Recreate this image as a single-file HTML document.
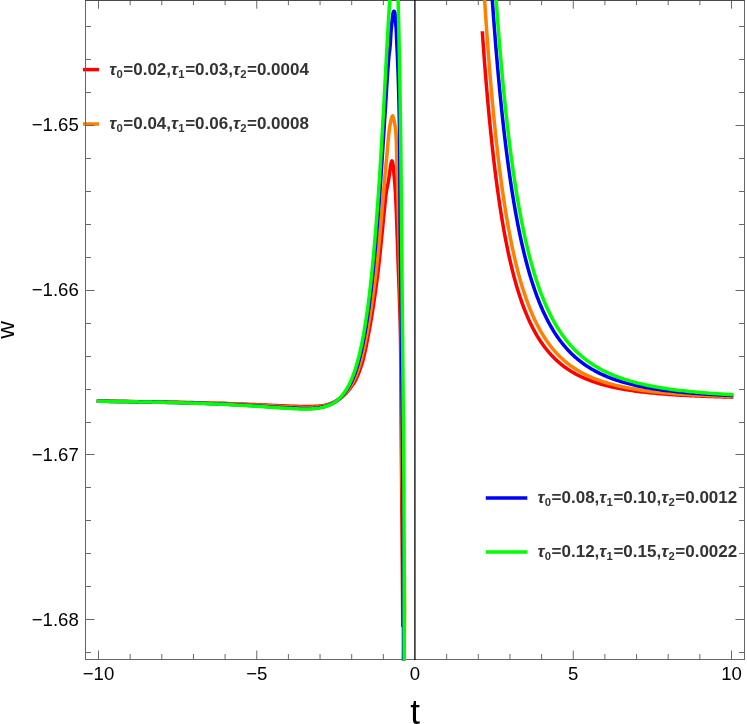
<!DOCTYPE html>
<html><head><meta charset="utf-8"><title>plot</title>
<style>
html,body{margin:0;padding:0;background:#fff;overflow:hidden;}
body{width:747px;height:724px;position:relative;overflow:hidden;font-family:"Liberation Sans",sans-serif;}
.yt{position:absolute;left:0;width:78.8px;text-align:right;font-size:18.6px;line-height:20px;color:#000;white-space:nowrap;}
.xt{position:absolute;top:664px;width:60px;text-align:center;font-size:18.6px;line-height:20px;color:#000;white-space:nowrap;}
.lg{position:absolute;font-size:17px;font-weight:bold;color:#333;line-height:24px;height:24px;white-space:nowrap;letter-spacing:0px;}
.lg i{font-style:italic;margin-right:0.3px;}
.lg sub{font-size:11.3px;vertical-align:baseline;position:relative;top:2.9px;letter-spacing:0;margin-right:0.55px;}
.xl{position:absolute;left:410.3px;top:691.6px;font-size:35px;line-height:40px;color:#000;}
.yl{position:absolute;left:-14px;top:314.5px;width:40px;height:30px;line-height:30px;text-align:center;font-size:24.5px;color:#000;transform:rotate(-90deg);transform-origin:50% 50%;}
</style></head><body>
<svg width="747" height="724" viewBox="0 0 747 724" style="position:absolute;left:0;top:0">
<rect x="0" y="0" width="747" height="724" fill="#ffffff"/>
<g stroke-width="3.5" fill="none">
<line x1="83" y1="69.6" x2="99" y2="69.6" stroke="#ff0000"/>
<line x1="83" y1="124" x2="99" y2="124" stroke="#ff8000"/>
<line x1="485.8" y1="498.1" x2="527.3" y2="498.1" stroke="#0000ff"/>
<line x1="485.8" y1="551.9" x2="527.3" y2="551.9" stroke="#00ff00"/>
</g>
<path d="M98.50,659.5 v-9.0 M98.50,0 v8.7 M130.15,659.5 v-5.5 M130.15,0 v5.2 M161.80,659.5 v-5.5 M161.80,0 v5.2 M193.45,659.5 v-5.5 M193.45,0 v5.2 M225.10,659.5 v-5.5 M225.10,0 v5.2 M256.75,659.5 v-9.0 M256.75,0 v8.7 M288.40,659.5 v-5.5 M288.40,0 v5.2 M320.05,659.5 v-5.5 M320.05,0 v5.2 M351.70,659.5 v-5.5 M351.70,0 v5.2 M383.35,659.5 v-5.5 M383.35,0 v5.2 M446.65,659.5 v-5.5 M446.65,0 v5.2 M478.30,659.5 v-5.5 M478.30,0 v5.2 M509.95,659.5 v-5.5 M509.95,0 v5.2 M541.60,659.5 v-5.5 M541.60,0 v5.2 M573.25,659.5 v-9.0 M573.25,0 v8.7 M604.90,659.5 v-5.5 M604.90,0 v5.2 M636.55,659.5 v-5.5 M636.55,0 v5.2 M668.20,659.5 v-5.5 M668.20,0 v5.2 M699.85,659.5 v-5.5 M699.85,0 v5.2 M731.50,659.5 v-9.0 M731.50,0 v8.7 M85.5,26.50 h5.5 M744.5,26.50 h-5.5 M85.5,59.50 h5.5 M744.5,59.50 h-5.5 M85.5,92.50 h5.5 M744.5,92.50 h-5.5 M85.5,125.50 h9.0 M744.5,125.50 h-9.0 M85.5,158.50 h5.5 M744.5,158.50 h-5.5 M85.5,191.50 h5.5 M744.5,191.50 h-5.5 M85.5,224.50 h5.5 M744.5,224.50 h-5.5 M85.5,257.50 h5.5 M744.5,257.50 h-5.5 M85.5,290.50 h9.0 M744.5,290.50 h-9.0 M85.5,323.50 h5.5 M744.5,323.50 h-5.5 M85.5,356.50 h5.5 M744.5,356.50 h-5.5 M85.5,389.50 h5.5 M744.5,389.50 h-5.5 M85.5,422.50 h5.5 M744.5,422.50 h-5.5 M85.5,454.50 h9.0 M744.5,454.50 h-9.0 M85.5,487.50 h5.5 M744.5,487.50 h-5.5 M85.5,520.50 h5.5 M744.5,520.50 h-5.5 M85.5,553.50 h5.5 M744.5,553.50 h-5.5 M85.5,586.50 h5.5 M744.5,586.50 h-5.5 M85.5,619.50 h9.0 M744.5,619.50 h-9.0 M85.5,652.50 h5.5 M744.5,652.50 h-5.5" stroke="#686868" stroke-width="1" fill="none"/>
<rect x="85.5" y="0.5" width="659.0" height="659.0" fill="none" stroke="#666666" stroke-width="1"/>
<line x1="85.0" y1="0.5" x2="745.0" y2="0.5" stroke="#4a4a4a" stroke-width="1"/>
<clipPath id="cp"><rect x="85.5" y="-5" width="659.0" height="665.4"/></clipPath>
<clipPath id="cr"><rect x="85.5" y="31.3" width="659.0" height="595.7"/></clipPath>
<g fill="none" stroke-linejoin="round" stroke-linecap="square" stroke-width="3.5">
<g clip-path="url(#cr)" stroke="#ff0000">
<path d="M98.50,401.21 L102.39,401.25 L106.28,401.29 L110.17,401.33 L114.06,401.37 L117.95,401.42 L121.84,401.46 L125.74,401.50 L129.63,401.54 L133.52,401.59 L137.41,401.63 L141.30,401.68 L145.19,401.73 L149.08,401.78 L152.97,401.84 L156.86,401.90 L160.75,401.96 L164.64,402.02 L168.53,402.09 L172.42,402.16 L176.32,402.23 L180.21,402.31 L184.11,402.39 L188.01,402.46 L191.92,402.55 L195.82,402.63 L199.73,402.72 L203.64,402.82 L207.55,402.92 L211.47,403.02 L215.39,403.13 L219.31,403.24 L223.23,403.36 L227.15,403.49 L231.08,403.63 L235.01,403.77 L238.94,403.92 L242.87,404.08 L246.81,404.24 L250.74,404.42 L254.71,404.59 L256.72,404.68 L258.74,404.77 L260.76,404.86 L262.79,404.94 L264.82,405.03 L266.86,405.12 L268.89,405.21 L270.92,405.30 L272.95,405.40 L274.97,405.49 L276.99,405.58 L278.99,405.68 L282.97,405.85 L286.94,406.00 L290.90,406.13 L294.87,406.26 L298.85,406.38 L302.85,406.49 L304.86,406.53 L306.89,406.54 L308.92,406.53 L310.95,406.50 L312.96,406.43 L314.97,406.33 L316.98,406.19 L318.98,406.01 L320.98,405.78 L322.96,405.48 L324.93,405.10 L326.89,404.65 L328.85,404.10 L330.81,403.44 L332.77,402.66 L334.59,401.81 L336.38,400.87 L338.11,399.87 L339.80,398.77 L341.42,397.56 L342.96,396.27 L344.44,394.89 L345.84,393.45 L347.20,391.94 L348.50,390.40 L349.76,388.81 L350.93,387.16 L352.09,385.51 L353.33,383.90 L354.49,382.23 L355.47,380.44 L356.33,378.58 L357.16,376.74 L357.95,374.87 L358.71,372.98 L359.43,371.07 L360.13,369.15 L360.80,367.23 L361.44,365.31 L362.05,363.40 L362.64,361.42 L363.18,359.46 L363.69,357.42 L364.17,355.41 L364.62,353.44 L365.07,351.41 L365.50,349.42 L365.92,347.38 L366.32,345.39 L366.72,343.34 L367.10,341.37 L367.49,339.33 L367.90,337.25 L368.28,335.25 L368.67,333.19 L369.06,331.09 L369.43,329.08 L369.81,327.03 L370.19,324.93 L370.55,322.94 L370.90,320.91 L371.26,318.84 L371.62,316.72 L371.95,314.73 L372.28,312.71 L372.61,310.65 L372.93,308.54 L373.26,306.40 L373.57,304.41 L373.87,302.38 L374.17,300.32 L374.48,298.22 L374.79,296.09 L375.10,293.91 L375.38,291.92 L375.66,289.90 L375.95,287.85 L376.23,285.76 L376.51,283.64 L376.79,281.49 L377.08,279.30 L377.36,277.08 L377.61,275.08 L377.86,273.04 L378.10,270.98 L378.35,268.89 L378.59,266.78 L378.84,264.63 L379.08,262.46 L379.32,260.25 L379.56,258.01 L379.80,255.75 L380.01,253.74 L380.22,251.71 L380.44,249.66 L380.65,247.58 L380.86,245.48 L381.08,243.35 L381.29,241.20 L381.51,239.02 L381.73,236.82 L381.95,234.59 L382.18,232.34 L382.40,230.07 L382.63,227.76 L382.82,225.77 L383.02,223.76 L383.21,221.73 L383.41,219.68 L383.61,217.61 L383.82,215.52 L384.03,213.41 L384.13,212.35 L384.23,211.29 L384.33,210.22 L384.44,209.16 L384.54,208.10 L384.65,207.03 L384.77,205.97 L384.88,204.91 L384.99,203.85 L385.10,202.79 L385.22,201.72 L385.33,200.66 L385.44,199.60 L385.56,198.54 L385.67,197.47 L385.78,196.41 L385.89,195.35 L386.02,194.29 L386.15,193.23 L386.30,192.17 L386.46,191.11 L386.65,190.06 L386.86,189.02 L387.09,187.97 L387.32,186.93 L387.55,185.89 L387.77,184.84 L387.97,183.80 L388.16,182.75 L388.33,181.71 L388.50,180.65 L388.66,179.59 L388.82,178.53 L388.97,177.46 L389.13,176.38 L389.29,175.30 L389.44,174.22 L389.60,173.15 L389.75,172.08 L389.89,171.02 L390.04,169.98 L390.18,168.96 L390.31,167.96 L390.43,166.97 L390.57,165.98 L390.74,164.94 L390.95,163.82 L391.24,162.59 L391.59,161.38 L391.97,160.83 L392.34,161.40 L392.66,162.61 L392.91,163.84 L393.10,164.98 L393.23,166.05 L393.33,167.08 L393.42,168.09 L393.51,169.11 L393.60,170.14 L393.70,171.18 L393.79,172.22 L393.89,173.28 L393.99,174.33 L394.08,175.40 L394.18,176.47 L394.28,177.54 L394.38,178.62 L394.47,179.70 L394.57,180.78 L394.66,181.86 L394.75,182.94 L394.83,184.01 L394.92,185.09 L395.00,186.16 L395.07,187.24 L395.15,188.30 L395.22,189.37 L395.28,190.44 L395.35,191.50 L395.41,192.56 L395.47,193.62 L395.53,194.68 L395.59,195.74 L395.64,196.80 L395.69,197.86 L395.74,198.92 L395.80,199.98 L395.85,201.04 L395.90,202.10 L395.94,203.16 L395.99,204.22 L396.04,205.28 L396.09,206.34 L396.13,207.40 L396.18,208.47 L396.22,209.53 L396.27,210.59 L396.31,211.66 L396.35,212.72 L396.40,213.79 L396.44,214.85 L396.48,215.92 L396.52,216.98 L396.56,218.05 L396.60,219.11 L396.64,220.18 L396.68,221.25 L396.72,222.32 L396.76,223.38 L396.80,224.45 L396.84,225.52 L396.87,226.59 L396.91,227.66 L396.95,228.73 L396.98,229.79 L397.02,230.86 L397.06,231.93 L397.09,233.00 L397.13,234.07 L397.17,235.14 L397.20,236.21 L397.24,237.28 L397.27,238.35 L397.31,239.42 L397.34,240.49 L397.38,241.56 L397.42,242.63 L397.45,243.71 L397.49,244.78 L397.52,245.85 L397.56,246.92 L397.59,247.99 L397.63,249.06 L397.66,250.13 L397.70,251.20 L397.74,252.27 L397.77,253.34 L397.81,254.41 L397.85,255.48 L397.88,256.55 L397.92,257.62 L397.96,258.69 L397.99,259.76 L398.03,260.83 L398.07,261.90 L398.11,262.97 L398.15,264.04 L398.19,265.11 L398.23,266.18 L398.26,267.25 L398.30,268.32 L398.34,269.39 L398.38,270.45 L398.42,271.52 L398.46,272.59 L398.50,273.66 L398.54,274.73 L398.58,275.80 L398.62,276.86 L398.66,277.93 L398.71,279.00 L398.75,280.07 L398.79,281.13 L398.83,282.20 L398.87,283.27 L398.91,284.34 L398.95,285.40 L398.99,286.47 L399.03,287.54 L399.07,288.61 L399.11,289.67 L399.15,290.74 L399.18,291.81 L399.22,292.87 L399.26,293.94 L399.30,295.01 L399.34,296.08 L399.38,297.14 L399.42,298.21 L399.45,299.28 L399.49,300.34 L399.53,301.41 L399.56,302.48 L399.60,303.54 L399.63,304.61 L399.67,305.68 L399.70,306.74 L399.74,307.81 L399.77,308.88 L399.81,309.94 L399.84,311.01 L399.87,312.08 L399.90,313.14 L399.93,314.21 L399.96,315.28 L400.00,316.35 L400.02,317.41 L400.05,318.48 L400.08,319.55 L400.11,320.61 L400.14,321.68 L400.16,322.75 L400.19,323.82 L400.21,324.88 L400.24,325.95 L400.26,327.02 L400.29,328.08 L400.31,329.15 L400.33,330.22 L400.35,331.29 L400.37,332.35 L400.39,333.42 L400.41,334.49 L400.43,335.56 L400.45,336.63 L400.47,337.69 L400.49,338.76 L400.51,339.83 L400.52,340.90 L400.54,341.96 L400.55,343.03 L400.57,344.10 L400.59,345.17 L400.60,346.24 L400.61,347.30 L400.63,348.37 L400.64,349.44 L400.66,350.51 L400.67,351.58 L400.68,352.64 L400.69,353.71 L400.70,354.78 L400.72,355.85 L400.73,356.92 L400.74,357.99 L400.75,359.05 L400.76,360.12 L400.77,361.19 L400.78,362.26 L400.79,363.33 L400.79,364.40 L400.80,365.46 L400.81,366.53 L400.82,367.60 L400.83,368.67 L400.84,369.74 L400.84,370.81 L400.85,371.87 L400.86,372.94 L400.87,374.01 L400.87,375.08 L400.88,376.15 L400.89,377.22 L400.89,378.29 L400.90,379.35 L400.90,380.42 L400.91,381.49 L400.92,382.56 L400.92,383.63 L400.93,384.70 L400.93,385.77 L400.94,386.83 L400.95,387.90 L400.95,388.97 L400.96,390.04 L400.96,391.11 L400.97,392.18 L400.97,393.25 L400.98,394.31 L400.99,395.38 L400.99,396.45 L401.00,397.52 L401.00,398.59 L401.01,399.66 L401.01,400.72 L401.02,401.79 L401.03,402.86 L401.03,403.93 L401.04,405.00 L401.05,406.07 L401.05,407.14 L401.06,408.20 L401.07,409.27 L401.07,410.34 L401.08,411.41 L401.08,412.48 L401.09,413.55 L401.10,414.61 L401.11,415.68 L401.11,416.75 L401.12,417.82 L401.13,418.89 L401.13,419.96 L401.14,421.02 L401.15,422.09 L401.16,423.16 L401.16,424.23 L401.17,425.30 L401.18,426.37 L401.19,427.43 L401.19,428.50 L401.20,429.57 L401.21,430.64 L401.22,431.71 L401.22,432.78 L401.23,433.84 L401.24,434.91 L401.25,435.98 L401.26,437.05 L401.26,438.12 L401.27,439.19 L401.28,440.25 L401.29,441.32 L401.30,442.39 L401.31,443.46 L401.31,444.53 L401.32,445.59 L401.33,446.66 L401.34,447.73 L401.35,448.80 L401.36,449.87 L401.36,450.94 L401.37,452.00 L401.38,453.07 L401.39,454.14 L401.40,455.21 L401.41,456.28 L401.42,457.34 L401.43,458.41 L401.43,459.48 L401.44,460.55 L401.45,461.62 L401.46,462.69 L401.47,463.75 L401.48,464.82 L401.49,465.89 L401.50,466.96 L401.51,468.03 L401.52,469.09 L401.53,470.16 L401.53,471.23 L401.54,472.30 L401.55,473.37 L401.56,474.43 L401.57,475.50 L401.58,476.57 L401.59,477.64 L401.60,478.71 L401.61,479.77 L401.62,480.84 L401.63,481.91 L401.64,482.98 L401.65,484.05 L401.66,485.11 L401.67,486.18 L401.67,487.25 L401.68,488.32 L401.69,489.39 L401.70,490.46 L401.71,491.52 L401.72,492.59 L401.73,493.66 L401.74,494.73 L401.75,495.80 L401.76,496.86 L401.77,497.93 L401.78,499.00 L401.79,500.07 L401.80,501.14 L401.81,502.20 L401.82,503.27 L401.83,504.34 L401.84,505.41 L401.85,506.48 L401.86,507.54 L401.87,508.61 L401.87,509.68 L401.88,510.75 L401.89,511.82 L401.90,512.88 L401.91,513.95 L401.92,515.02 L401.93,516.09 L401.94,517.16 L401.95,518.22 L401.96,519.29 L401.97,520.36 L401.98,521.43 L401.99,522.50 L402.00,523.56 L402.01,524.63 L402.02,525.70 L402.03,526.77 L402.04,527.84 L402.05,528.90 L402.05,529.97 L402.06,531.04 L402.07,532.11 L402.08,533.18 L402.09,534.24 L402.10,535.31 L402.11,536.38 L402.12,537.45 L402.13,538.52 L402.14,539.59 L402.15,540.65 L402.16,541.72 L402.17,542.79 L402.17,543.86 L402.18,544.93 L402.19,545.99 L402.20,547.06 L402.21,548.13 L402.22,549.20 L402.23,550.27 L402.24,551.33 L402.25,552.40 L402.25,553.47 L402.26,554.54 L402.27,555.61 L402.28,556.67 L402.29,557.74 L402.30,558.81 L402.31,559.88 L402.31,560.95 L402.32,562.01 L402.33,563.08 L402.34,564.15 L402.35,565.22 L402.36,566.29 L402.36,567.36 L402.37,568.42 L402.38,569.49 L402.39,570.56 L402.40,571.63 L402.40,572.70 L402.41,573.76 L402.42,574.83 L402.43,575.90 L402.44,576.97 L402.44,578.04 L402.45,579.11 L402.46,580.17 L402.47,581.24 L402.47,582.31 L402.48,583.38 L402.49,584.45 L402.50,585.51 L402.50,586.58 L402.51,587.65 L402.52,588.72 L402.53,589.79 L402.53,590.86 L402.54,591.92 L402.55,592.99 L402.55,594.06 L402.56,595.13 L402.57,596.20 L402.57,597.26 L402.58,598.33 L402.59,599.40 L402.59,600.47 L402.60,601.54 L402.61,602.61 L402.61,603.67 L402.62,604.74 L402.62,605.81 L402.63,606.88 L402.64,607.95 L402.64,609.02 L402.65,610.08 L402.65,611.15 L402.66,612.22 L402.66,613.29 L402.67,614.36 L402.68,615.43 L402.68,616.50 L402.69,617.56 L402.69,618.63 L402.70,619.70 L402.70,620.77 L402.71,621.84 L402.71,622.91 L402.72,623.97 L402.72,625.04 L402.73,626.11 L402.73,627.18 L402.73,628.25 L402.74,629.32 L402.74,630.38 L402.75,631.45 L402.75,632.52 L402.75,633.59 L402.76,634.66 L402.76,635.73 L402.77,636.80 L402.77,637.86 L402.77,638.93 L402.78,640.00"/>
<path d="M481.52,20.00 L481.62,21.43 L481.73,23.17 L481.85,24.90 L481.97,26.62 L482.09,28.33 L482.20,30.03 L482.32,31.72 L482.44,33.41 L482.55,35.08 L482.67,36.74 L482.79,38.40 L482.90,40.04 L483.02,41.68 L483.14,43.31 L483.25,44.92 L483.37,46.53 L483.49,48.13 L483.60,49.72 L483.72,51.31 L483.84,52.88 L483.95,54.45 L484.07,56.00 L484.19,57.55 L484.30,59.09 L484.42,60.62 L484.54,62.14 L484.65,63.66 L484.77,65.16 L484.89,66.66 L485.00,68.15 L485.12,69.63 L485.24,71.10 L485.35,72.57 L485.47,74.02 L485.59,75.47 L485.70,76.91 L485.82,78.34 L485.94,79.77 L486.06,81.19 L486.17,82.60 L486.29,84.00 L486.41,85.39 L486.52,86.78 L486.64,88.16 L486.76,89.53 L486.87,90.90 L486.99,92.25 L487.11,93.60 L487.22,94.95 L487.34,96.28 L487.46,97.61 L487.57,98.93 L487.69,100.25 L487.81,101.55 L487.92,102.85 L488.04,104.15 L488.16,105.43 L488.27,106.71 L488.39,107.99 L488.51,109.25 L488.62,110.51 L488.74,111.76 L488.86,113.01 L488.97,114.25 L489.09,115.48 L489.21,116.71 L489.32,117.93 L489.44,119.14 L489.56,120.35 L489.67,121.55 L489.79,122.74 L489.91,123.93 L490.03,125.11 L490.14,126.29 L490.26,127.45 L490.38,128.62 L490.49,129.77 L490.61,130.93 L490.73,132.07 L490.84,133.21 L490.96,134.34 L491.08,135.47 L491.19,136.59 L491.31,137.71 L491.43,138.82 L491.54,139.92 L491.66,141.02 L491.78,142.11 L491.89,143.20 L492.01,144.28 L492.13,145.35 L492.24,146.42 L492.36,147.49 L492.48,148.55 L492.59,149.60 L492.71,150.65 L492.83,151.69 L492.94,152.73 L493.06,153.76 L493.18,154.79 L493.29,155.81 L493.41,156.83 L493.53,157.84 L493.64,158.84 L493.76,159.84 L493.88,160.84 L494.05,162.32 L494.23,163.80 L494.40,165.26 L494.58,166.71 L494.75,168.15 L494.93,169.58 L495.10,171.00 L495.28,172.40 L495.45,173.80 L495.63,175.19 L495.80,176.56 L495.98,177.93 L496.16,179.28 L496.33,180.63 L496.51,181.96 L496.68,183.29 L496.86,184.60 L497.03,185.91 L497.21,187.20 L497.38,188.49 L497.56,189.76 L497.73,191.03 L497.91,192.29 L498.08,193.54 L498.26,194.78 L498.43,196.01 L498.61,197.23 L498.78,198.44 L498.96,199.64 L499.13,200.84 L499.31,202.02 L499.48,203.20 L499.66,204.37 L499.83,205.53 L500.01,206.68 L500.18,207.82 L500.36,208.95 L500.53,210.08 L500.71,211.20 L500.88,212.31 L501.06,213.41 L501.23,214.51 L501.41,215.59 L501.58,216.67 L501.76,217.74 L501.93,218.80 L502.11,219.86 L502.29,220.91 L502.46,221.95 L502.64,222.98 L502.81,224.01 L502.99,225.02 L503.16,226.04 L503.34,227.04 L503.51,228.04 L503.69,229.03 L503.92,230.33 L504.15,231.63 L504.39,232.92 L504.62,234.19 L504.85,235.45 L505.09,236.70 L505.32,237.93 L505.55,239.16 L505.79,240.37 L506.02,241.58 L506.26,242.77 L506.49,243.95 L506.72,245.12 L506.96,246.28 L507.19,247.43 L507.42,248.56 L507.66,249.69 L507.89,250.81 L508.12,251.91 L508.36,253.01 L508.59,254.10 L508.82,255.18 L509.06,256.24 L509.29,257.30 L509.52,258.35 L509.76,259.39 L509.99,260.42 L510.23,261.44 L510.46,262.45 L510.69,263.45 L510.93,264.44 L511.16,265.42 L511.39,266.40 L511.68,267.61 L511.98,268.80 L512.27,269.98 L512.56,271.15 L512.85,272.30 L513.14,273.44 L513.44,274.57 L513.73,275.69 L514.02,276.79 L514.31,277.88 L514.60,278.96 L514.90,280.03 L515.19,281.09 L515.48,282.13 L515.77,283.17 L516.06,284.19 L516.36,285.20 L516.65,286.20 L516.94,287.19 L517.23,288.17 L517.52,289.14 L517.81,290.10 L518.17,291.24 L518.52,292.36 L518.87,293.47 L519.22,294.56 L519.57,295.64 L519.92,296.71 L520.27,297.77 L520.62,298.81 L520.97,299.83 L521.32,300.85 L521.67,301.85 L522.02,302.84 L522.37,303.82 L522.72,304.78 L523.07,305.73 L523.42,306.67 L523.83,307.76 L524.24,308.83 L524.65,309.88 L525.05,310.92 L525.46,311.94 L525.87,312.95 L526.28,313.94 L526.69,314.92 L527.10,315.89 L527.51,316.84 L527.91,317.78 L528.32,318.71 L528.73,319.62 L529.20,320.65 L529.67,321.66 L530.13,322.66 L530.60,323.64 L531.07,324.61 L531.53,325.56 L532.00,326.49 L532.47,327.41 L532.94,328.32 L533.40,329.21 L533.93,330.20 L534.45,331.17 L534.98,332.13 L535.50,333.07 L536.03,333.99 L536.56,334.89 L537.08,335.79 L537.61,336.66 L538.13,337.52 L538.72,338.46 L539.30,339.39 L539.88,340.29 L540.96,341.92 L541.92,343.33 L542.89,344.69 L543.85,346.02 L544.81,347.30 L545.77,348.55 L546.74,349.76 L547.70,350.94 L548.66,352.08 L549.62,353.19 L550.59,354.26 L551.55,355.31 L552.51,356.32 L553.47,357.31 L554.43,358.27 L555.40,359.21 L556.36,360.11 L557.32,361.00 L558.28,361.85 L559.25,362.69 L560.21,363.50 L561.17,364.29 L562.13,365.06 L563.10,365.81 L564.06,366.53 L565.02,367.24 L565.98,367.93 L566.94,368.60 L567.91,369.26 L568.87,369.90 L569.83,370.52 L570.79,371.12 L571.76,371.71 L572.72,372.28 L573.68,372.84 L574.64,373.39 L575.61,373.92 L576.57,374.44 L577.53,374.94 L578.49,375.43 L579.45,375.92 L580.42,376.38 L581.38,376.84 L582.34,377.29 L583.30,377.72 L584.27,378.15 L585.23,378.56 L586.19,378.96 L587.15,379.36 L588.12,379.74 L589.08,380.12 L590.04,380.49 L591.00,380.85 L591.96,381.20 L592.93,381.54 L593.89,381.87 L594.85,382.20 L595.81,382.52 L596.78,382.83 L597.74,383.13 L598.70,383.43 L599.66,383.72 L600.63,384.01 L601.59,384.29 L603.51,384.82 L605.44,385.34 L607.36,385.83 L609.29,386.30 L611.21,386.75 L613.14,387.18 L615.06,387.59 L616.98,387.99 L618.91,388.37 L620.83,388.73 L622.76,389.08 L624.68,389.42 L626.61,389.74 L628.53,390.05 L630.46,390.34 L632.38,390.63 L634.31,390.90 L636.23,391.16 L638.16,391.42 L640.08,391.66 L642.01,391.89 L643.93,392.12 L645.85,392.33 L647.78,392.54 L649.70,392.74 L651.63,392.94 L653.55,393.12 L655.48,393.30 L657.40,393.48 L659.33,393.64 L661.25,393.80 L663.18,393.96 L665.10,394.11 L667.03,394.25 L668.95,394.39 L670.87,394.53 L672.80,394.66 L674.72,394.78 L676.65,394.91 L678.57,395.02 L680.50,395.14 L682.42,395.25 L684.35,395.35 L686.27,395.45 L688.20,395.55 L690.12,395.65 L692.05,395.74 L693.97,395.83 L695.89,395.92 L697.82,396.00 L699.74,396.09 L701.67,396.17 L703.59,396.24 L705.52,396.32 L707.44,396.39 L709.37,396.46 L711.29,396.53 L713.22,396.59 L715.14,396.66 L717.07,396.72 L718.99,396.78 L720.91,396.84 L722.84,396.89 L724.76,396.95 L726.69,397.00 L728.61,397.05 L730.54,397.10 L731.50,397.13"/>
</g>
<g clip-path="url(#cp)" stroke="#ff8000">
<path d="M98.50,401.24 L102.39,401.29 L106.28,401.33 L110.17,401.37 L114.06,401.42 L117.95,401.47 L121.84,401.51 L125.74,401.56 L129.63,401.61 L133.52,401.66 L137.41,401.71 L141.30,401.77 L145.19,401.83 L149.08,401.89 L152.97,401.95 L156.86,402.01 L160.75,402.08 L164.64,402.16 L168.53,402.23 L172.42,402.31 L176.32,402.40 L180.21,402.48 L184.11,402.57 L188.00,402.67 L191.90,402.76 L195.80,402.86 L199.70,402.97 L203.61,403.08 L207.51,403.20 L211.42,403.32 L215.33,403.45 L219.23,403.58 L223.15,403.72 L227.06,403.87 L230.97,404.03 L234.88,404.19 L238.80,404.37 L242.72,404.55 L246.64,404.74 L250.56,404.94 L254.50,405.14 L258.47,405.34 L262.46,405.55 L264.47,405.66 L266.47,405.77 L268.47,405.87 L270.47,405.98 L272.47,406.09 L276.45,406.31 L280.40,406.53 L284.35,406.73 L288.29,406.91 L292.22,407.08 L296.16,407.23 L300.11,407.36 L304.09,407.45 L308.09,407.46 L312.07,407.35 L316.04,407.11 L320.00,406.68 L323.93,405.99 L325.88,405.52 L327.84,404.96 L329.79,404.29 L331.75,403.49 L333.56,402.63 L335.32,401.67 L337.03,400.63 L338.70,399.49 L340.29,398.25 L341.81,396.92 L343.26,395.49 L344.65,394.00 L345.96,392.46 L347.23,390.86 L348.42,389.23 L349.55,387.53 L350.64,385.85 L351.75,384.17 L352.80,382.44 L353.74,380.62 L354.58,378.78 L355.40,376.88 L356.17,375.02 L356.90,373.13 L357.60,371.23 L358.26,369.31 L358.89,367.40 L359.50,365.49 L360.10,363.49 L360.67,361.52 L361.20,359.56 L361.73,357.52 L362.23,355.52 L362.71,353.56 L363.18,351.52 L363.63,349.54 L364.08,347.50 L364.50,345.51 L364.92,343.47 L365.32,341.50 L365.72,339.47 L366.12,337.39 L366.49,335.39 L366.88,333.34 L367.26,331.24 L367.62,329.24 L367.99,327.19 L368.35,325.09 L368.70,323.11 L369.04,321.08 L369.38,319.01 L369.73,316.90 L370.05,314.92 L370.36,312.90 L370.68,310.84 L371.00,308.74 L371.32,306.59 L371.61,304.61 L371.91,302.59 L372.21,300.53 L372.51,298.43 L372.82,296.30 L373.12,294.13 L373.40,292.15 L373.67,290.13 L373.95,288.08 L374.23,285.99 L374.51,283.88 L374.79,281.73 L375.07,279.55 L375.34,277.33 L375.59,275.33 L375.83,273.30 L376.08,271.24 L376.32,269.16 L376.55,267.04 L376.79,264.90 L377.03,262.73 L377.27,260.53 L377.51,258.30 L377.74,256.03 L377.95,254.03 L378.16,252.00 L378.36,249.95 L378.57,247.88 L378.78,245.78 L378.99,243.65 L379.19,241.51 L379.40,239.33 L379.61,237.14 L379.82,234.91 L380.03,232.67 L380.24,230.39 L380.45,228.10 L380.66,225.77 L380.84,223.76 L381.02,221.73 L381.20,219.68 L381.38,217.61 L381.56,215.52 L381.74,213.41 L381.92,211.29 L382.10,209.14 L382.29,206.97 L382.48,204.79 L382.67,202.58 L382.86,200.36 L383.05,198.12 L383.24,195.85 L383.44,193.57 L383.64,191.27 L383.84,188.95 L384.05,186.61 L384.25,184.24 L384.46,181.86 L384.64,179.87 L384.81,177.85 L384.93,176.64 L385.04,175.42 L385.16,174.21 L385.26,172.99 L385.37,171.78 L385.47,170.56 L385.57,169.34 L385.67,168.13 L385.78,166.91 L385.88,165.70 L385.99,164.48 L386.10,163.27 L386.22,162.05 L386.34,160.84 L386.47,159.62 L386.59,158.41 L386.72,157.20 L386.84,155.98 L386.95,154.77 L387.07,153.55 L387.17,152.34 L387.28,151.12 L387.38,149.91 L387.48,148.69 L387.58,147.48 L387.68,146.26 L387.78,145.05 L387.88,143.83 L387.98,142.62 L388.08,141.40 L388.19,140.19 L388.29,138.97 L388.41,137.76 L388.53,136.54 L388.65,135.33 L388.78,134.11 L388.92,132.90 L389.07,131.69 L389.22,130.47 L389.38,129.26 L389.56,128.05 L389.74,126.84 L389.94,125.63 L390.15,124.42 L390.37,123.22 L390.61,122.03 L390.86,120.84 L391.13,119.67 L391.43,118.50 L391.78,117.29 L392.21,116.02 L392.70,115.83 L393.15,117.05 L393.51,118.28 L393.81,119.47 L394.08,120.65 L394.34,121.84 L394.57,123.04 L394.78,124.23 L394.98,125.43 L395.16,126.64 L395.32,127.84 L395.47,129.05 L395.60,130.26 L395.72,131.47 L395.82,132.68 L395.92,133.89 L396.00,135.11 L396.07,136.33 L396.14,137.55 L396.20,138.77 L396.25,139.99 L396.29,141.21 L396.33,142.43 L396.37,143.66 L396.40,144.88 L396.43,146.11 L396.45,147.33 L396.48,148.55 L396.51,149.78 L396.54,151.00 L396.57,152.22 L396.60,153.44 L396.63,154.67 L396.67,155.89 L396.70,157.11 L396.74,158.33 L396.77,159.55 L396.81,160.77 L396.85,161.99 L396.89,163.21 L396.93,164.43 L396.97,165.65 L397.01,166.87 L397.05,168.09 L397.09,169.30 L397.13,170.52 L397.17,171.74 L397.21,172.96 L397.25,174.18 L397.29,175.40 L397.33,176.62 L397.37,177.84 L397.41,179.05 L397.45,180.27 L397.48,181.49 L397.52,182.71 L397.56,183.93 L397.59,185.15 L397.63,186.37 L397.67,187.59 L397.70,188.81 L397.74,190.03 L397.77,191.25 L397.81,192.47 L397.84,193.68 L397.88,194.90 L397.91,196.12 L397.94,197.34 L397.98,198.56 L398.01,199.78 L398.04,201.00 L398.08,202.22 L398.11,203.44 L398.14,204.66 L398.17,205.88 L398.20,207.10 L398.24,208.32 L398.27,209.54 L398.30,210.76 L398.33,211.98 L398.36,213.20 L398.39,214.42 L398.42,215.64 L398.45,216.86 L398.48,218.08 L398.51,219.30 L398.54,220.52 L398.57,221.74 L398.60,222.96 L398.63,224.18 L398.66,225.40 L398.69,226.62 L398.72,227.84 L398.75,229.06 L398.78,230.28 L398.81,231.50 L398.84,232.72 L398.87,233.94 L398.90,235.16 L398.92,236.38 L398.95,237.60 L398.98,238.82 L399.01,240.04 L399.04,241.26 L399.07,242.48 L399.10,243.70 L399.13,244.92 L399.16,246.14 L399.19,247.36 L399.22,248.58 L399.25,249.80 L399.28,251.02 L399.30,252.24 L399.33,253.46 L399.36,254.68 L399.39,255.90 L399.42,257.12 L399.45,258.34 L399.48,259.56 L399.51,260.78 L399.55,262.00 L399.58,263.22 L399.61,264.44 L399.64,265.66 L399.67,266.88 L399.70,268.10 L399.73,269.32 L399.76,270.54 L399.79,271.76 L399.82,272.98 L399.85,274.20 L399.89,275.42 L399.92,276.64 L399.95,277.86 L399.98,279.08 L400.01,280.30 L400.04,281.52 L400.07,282.74 L400.10,283.96 L400.13,285.18 L400.16,286.40 L400.19,287.62 L400.22,288.84 L400.25,290.06 L400.28,291.28 L400.31,292.50 L400.34,293.72 L400.37,294.94 L400.40,296.16 L400.43,297.38 L400.46,298.60 L400.48,299.82 L400.51,301.04 L400.54,302.26 L400.57,303.48 L400.59,304.70 L400.62,305.92 L400.65,307.14 L400.67,308.36 L400.70,309.58 L400.72,310.80 L400.75,312.02 L400.77,313.24 L400.80,314.46 L400.82,315.68 L400.84,316.90 L400.87,318.12 L400.89,319.34 L400.91,320.56 L400.93,321.78 L400.95,323.00 L400.97,324.22 L400.99,325.44 L401.01,326.66 L401.03,327.88 L401.05,329.10 L401.07,330.32 L401.09,331.54 L401.10,332.76 L401.12,333.98 L401.14,335.20 L401.15,336.42 L401.17,337.64 L401.18,338.86 L401.20,340.08 L401.21,341.30 L401.23,342.52 L401.24,343.74 L401.25,344.96 L401.27,346.18 L401.28,347.40 L401.29,348.62 L401.30,349.84 L401.31,351.06 L401.33,352.28 L401.34,353.50 L401.35,354.72 L401.36,355.94 L401.37,357.16 L401.38,358.38 L401.39,359.60 L401.40,360.82 L401.41,362.04 L401.42,363.26 L401.42,364.48 L401.43,365.70 L401.44,366.92 L401.45,368.14 L401.46,369.36 L401.46,370.58 L401.47,371.80 L401.48,373.02 L401.48,374.24 L401.49,375.46 L401.50,376.68 L401.50,377.91 L401.51,379.13 L401.52,380.35 L401.52,381.57 L401.53,382.79 L401.53,384.01 L401.54,385.23 L401.55,386.45 L401.55,387.67 L401.56,388.89 L401.56,390.11 L401.57,391.33 L401.57,392.55 L401.58,393.77 L401.58,394.99 L401.59,396.21 L401.59,397.43 L401.59,398.65 L401.60,399.87 L401.60,401.09 L401.61,402.31 L401.61,403.53 L401.62,404.75 L401.62,405.97 L401.63,407.19 L401.63,408.41 L401.64,409.63 L401.64,410.85 L401.64,412.07 L401.65,413.30 L401.65,414.52 L401.66,415.74 L401.66,416.96 L401.67,418.18 L401.67,419.40 L401.68,420.62 L401.68,421.84 L401.69,423.06 L401.69,424.28 L401.70,425.50 L401.70,426.72 L401.71,427.94 L401.72,429.16 L401.72,430.38 L401.73,431.60 L401.73,432.82 L401.74,434.04 L401.75,435.26 L401.75,436.48 L401.76,437.70 L401.77,438.92 L401.77,440.14 L401.78,441.36 L401.79,442.58 L401.80,443.80 L401.80,445.02 L401.81,446.24 L401.82,447.46 L401.83,448.68 L401.84,449.90 L401.85,451.12 L401.86,452.35 L401.87,453.57 L401.88,454.79 L401.89,456.01 L401.90,457.23 L401.91,458.45 L401.92,459.67 L401.93,460.89 L401.94,462.11 L401.95,463.33 L401.97,464.55 L401.98,465.77 L401.99,466.99 L402.01,468.21 L402.02,469.43 L402.03,470.65 L402.05,471.87 L402.06,473.09 L402.08,474.31 L402.09,475.53 L402.11,476.75 L402.13,477.97 L402.14,479.19 L402.16,480.41 L402.18,481.63 L402.20,482.85 L402.21,484.07 L402.23,485.29 L402.25,486.51 L402.27,487.73 L402.29,488.95 L402.31,490.17 L402.34,491.39 L402.36,492.61 L402.38,493.83 L402.40,495.05 L402.43,496.27 L402.45,497.49 L402.47,498.71 L402.50,499.93 L402.52,501.15 L402.55,502.37 L402.58,503.59 L402.60,504.81 L402.63,506.03 L402.66,507.25 L402.69,508.47 L402.72,509.69 L402.74,510.91 L402.77,512.13 L402.80,513.35 L402.83,514.57 L402.86,515.79 L402.89,517.01 L402.93,518.23 L402.96,519.44 L402.99,520.66 L403.02,521.88 L403.05,523.10 L403.08,524.32 L403.12,525.54 L403.15,526.76 L403.18,527.98 L403.21,529.20 L403.25,530.42 L403.28,531.64 L403.31,532.86 L403.34,534.08 L403.38,535.30 L403.41,536.52 L403.44,537.74 L403.48,538.96 L403.51,540.18 L403.54,541.40 L403.57,542.62 L403.61,543.84 L403.64,545.06 L403.67,546.28 L403.70,547.50 L403.73,548.72 L403.77,549.94 L403.80,551.16 L403.83,552.38 L403.86,553.60 L403.89,554.82 L403.92,556.04 L403.95,557.26 L403.98,558.48 L404.01,559.69 L404.04,560.91 L404.06,562.13 L404.09,563.35 L404.12,564.57 L404.15,565.79 L404.17,567.01 L404.20,568.23 L404.23,569.45 L404.25,570.67 L404.27,571.89 L404.30,573.11 L404.32,574.33 L404.34,575.55 L404.37,576.77 L404.39,577.99 L404.41,579.21 L404.43,580.43 L404.45,581.65 L404.47,582.87 L404.48,584.09 L404.50,585.31 L404.52,586.53 L404.53,587.75 L404.55,588.97 L404.56,590.19 L404.58,591.41 L404.59,592.63 L404.60,593.85 L404.61,595.07 L404.62,596.29 L404.63,597.51 L404.63,598.73 L404.64,599.95 L404.65,601.17 L404.65,602.39 L404.65,603.61 L404.66,604.83 L404.66,606.05 L404.66,607.27 L404.66,608.50 L404.66,609.72 L404.65,610.94 L404.65,612.16 L404.64,613.38 L404.64,614.60 L404.63,615.82 L404.62,617.04 L404.61,618.26 L404.60,619.48 L404.58,620.70 L404.57,621.92 L404.55,623.14 L404.54,624.36 L404.52,625.58 L404.50,626.80 L404.48,628.02 L404.45,629.25 L404.43,630.47 L404.41,631.69 L404.38,632.91 L404.35,634.13 L404.32,635.35 L404.29,636.57 L404.25,637.79 L404.22,639.01 L404.18,640.23 L404.15,641.46 L404.11,642.68 L404.06,643.90 L404.02,645.12 L403.98,646.34 L403.93,647.56 L403.88,648.78 L403.83,650.01 L403.78,651.23 L403.73,652.45 L403.67,653.67 L403.61,654.89 L403.55,656.11 L403.49,657.33 L403.43,658.56 L403.37,659.78 L403.30,661.00"/>
<path d="M484.02,-10.00 L484.13,-8.17 L484.25,-6.30 L484.36,-4.43 L484.48,-2.58 L484.60,-0.73 L484.71,1.10 L484.83,2.93 L484.95,4.74 L485.06,6.54 L485.18,8.34 L485.30,10.12 L485.41,11.89 L485.53,13.65 L485.65,15.41 L485.76,17.15 L485.88,18.88 L486.00,20.61 L486.11,22.32 L486.23,24.02 L486.35,25.72 L486.46,27.40 L486.58,29.08 L486.70,30.74 L486.81,32.40 L486.93,34.05 L487.05,35.69 L487.16,37.32 L487.28,38.94 L487.40,40.55 L487.51,42.15 L487.63,43.74 L487.75,45.33 L487.86,46.91 L487.98,48.47 L488.10,50.03 L488.22,51.58 L488.33,53.12 L488.45,54.66 L488.57,56.18 L488.68,57.70 L488.80,59.20 L488.92,60.70 L489.03,62.20 L489.15,63.68 L489.27,65.16 L489.38,66.62 L489.50,68.08 L489.62,69.53 L489.73,70.98 L489.85,72.41 L489.97,73.84 L490.08,75.26 L490.20,76.67 L490.32,78.08 L490.43,79.47 L490.55,80.86 L490.67,82.25 L490.78,83.62 L490.90,84.99 L491.02,86.35 L491.13,87.70 L491.25,89.05 L491.37,90.39 L491.48,91.72 L491.60,93.04 L491.72,94.36 L491.83,95.67 L491.95,96.97 L492.07,98.27 L492.19,99.56 L492.30,100.84 L492.42,102.11 L492.54,103.38 L492.65,104.65 L492.77,105.90 L492.89,107.15 L493.00,108.39 L493.12,109.63 L493.24,110.86 L493.35,112.08 L493.47,113.30 L493.59,114.51 L493.70,115.71 L493.82,116.91 L493.94,118.10 L494.05,119.28 L494.17,120.46 L494.29,121.63 L494.40,122.80 L494.52,123.96 L494.64,125.11 L494.75,126.26 L494.87,127.40 L494.99,128.54 L495.10,129.67 L495.22,130.80 L495.34,131.92 L495.45,133.03 L495.57,134.14 L495.69,135.24 L495.80,136.33 L495.92,137.42 L496.04,138.51 L496.16,139.59 L496.27,140.66 L496.39,141.73 L496.51,142.79 L496.62,143.85 L496.74,144.90 L496.86,145.95 L496.97,146.99 L497.09,148.02 L497.21,149.05 L497.32,150.08 L497.44,151.10 L497.56,152.11 L497.67,153.12 L497.79,154.13 L497.91,155.13 L498.02,156.12 L498.20,157.60 L498.37,159.08 L498.55,160.54 L498.72,161.98 L498.90,163.42 L499.07,164.85 L499.25,166.27 L499.42,167.67 L499.60,169.07 L499.77,170.45 L499.95,171.83 L500.13,173.19 L500.30,174.55 L500.48,175.89 L500.65,177.23 L500.83,178.55 L501.00,179.86 L501.18,181.17 L501.35,182.47 L501.53,183.75 L501.70,185.03 L501.88,186.29 L502.05,187.55 L502.23,188.80 L502.40,190.04 L502.58,191.27 L502.75,192.49 L502.93,193.71 L503.10,194.91 L503.28,196.10 L503.45,197.29 L503.63,198.47 L503.80,199.64 L503.98,200.80 L504.15,201.95 L504.33,203.09 L504.50,204.23 L504.68,205.36 L504.85,206.48 L505.03,207.59 L505.20,208.69 L505.38,209.79 L505.55,210.88 L505.73,211.96 L505.90,213.03 L506.08,214.10 L506.26,215.15 L506.43,216.20 L506.61,217.25 L506.78,218.28 L506.96,219.31 L507.13,220.33 L507.31,221.34 L507.48,222.35 L507.66,223.35 L507.83,224.34 L508.01,225.33 L508.24,226.63 L508.47,227.92 L508.71,229.20 L508.94,230.47 L509.17,231.72 L509.41,232.97 L509.64,234.20 L509.87,235.42 L510.11,236.63 L510.34,237.83 L510.58,239.02 L510.81,240.20 L511.04,241.36 L511.28,242.52 L511.51,243.67 L511.74,244.80 L511.98,245.93 L512.21,247.04 L512.44,248.14 L512.68,249.24 L512.91,250.32 L513.14,251.40 L513.38,252.47 L513.61,253.52 L513.84,254.57 L514.08,255.61 L514.31,256.63 L514.55,257.65 L514.78,258.66 L515.01,259.66 L515.25,260.66 L515.48,261.64 L515.71,262.62 L516.01,263.82 L516.30,265.02 L516.59,266.20 L516.88,267.36 L517.17,268.52 L517.46,269.66 L517.76,270.79 L518.05,271.91 L518.34,273.01 L518.63,274.11 L518.92,275.19 L519.22,276.26 L519.51,277.32 L519.80,278.37 L520.09,279.40 L520.38,280.43 L520.68,281.44 L520.97,282.45 L521.26,283.44 L521.55,284.42 L521.84,285.40 L522.14,286.36 L522.49,287.50 L522.84,288.63 L523.19,289.74 L523.54,290.84 L523.89,291.93 L524.24,293.00 L524.59,294.06 L524.94,295.10 L525.29,296.14 L525.64,297.16 L525.99,298.17 L526.34,299.16 L526.69,300.15 L527.04,301.12 L527.39,302.08 L527.74,303.02 L528.15,304.12 L528.56,305.19 L528.97,306.25 L529.37,307.30 L529.78,308.33 L530.19,309.35 L530.60,310.35 L531.01,311.34 L531.42,312.32 L531.83,313.28 L532.24,314.23 L532.64,315.17 L533.05,316.09 L533.52,317.13 L533.99,318.15 L534.45,319.16 L534.92,320.16 L535.39,321.13 L535.85,322.10 L536.32,323.04 L536.79,323.98 L537.26,324.90 L537.72,325.80 L538.19,326.69 L538.72,327.68 L539.24,328.65 L539.77,329.61 L540.96,331.72 L541.92,333.36 L542.89,334.96 L543.85,336.50 L544.81,338.00 L545.77,339.46 L546.74,340.87 L547.70,342.24 L548.66,343.57 L549.62,344.87 L550.59,346.12 L551.55,347.35 L552.51,348.53 L553.47,349.68 L554.43,350.80 L555.40,351.89 L556.36,352.95 L557.32,353.98 L558.28,354.98 L559.25,355.96 L560.21,356.90 L561.17,357.83 L562.13,358.72 L563.10,359.60 L564.06,360.45 L565.02,361.27 L565.98,362.08 L566.94,362.86 L567.91,363.63 L568.87,364.37 L569.83,365.10 L570.79,365.80 L571.76,366.49 L572.72,367.16 L573.68,367.81 L574.64,368.45 L575.61,369.07 L576.57,369.68 L577.53,370.27 L578.49,370.85 L579.45,371.41 L580.42,371.96 L581.38,372.49 L582.34,373.01 L583.30,373.52 L584.27,374.02 L585.23,374.50 L586.19,374.98 L587.15,375.44 L588.12,375.89 L589.08,376.33 L590.04,376.76 L591.00,377.18 L591.96,377.59 L592.93,378.00 L593.89,378.39 L594.85,378.77 L595.81,379.15 L596.78,379.51 L597.74,379.87 L598.70,380.22 L599.66,380.56 L600.63,380.90 L601.59,381.22 L602.55,381.54 L603.51,381.85 L604.47,382.16 L605.44,382.46 L606.40,382.75 L607.36,383.04 L608.32,383.32 L609.29,383.59 L611.21,384.12 L613.14,384.63 L615.06,385.12 L616.98,385.59 L618.91,386.04 L620.83,386.47 L622.76,386.88 L624.68,387.28 L626.61,387.66 L628.53,388.02 L630.46,388.37 L632.38,388.71 L634.31,389.04 L636.23,389.35 L638.16,389.65 L640.08,389.94 L642.01,390.22 L643.93,390.48 L645.85,390.74 L647.78,390.99 L649.70,391.23 L651.63,391.46 L653.55,391.69 L655.48,391.90 L657.40,392.11 L659.33,392.31 L661.25,392.50 L663.18,392.69 L665.10,392.87 L667.03,393.04 L668.95,393.21 L670.87,393.37 L672.80,393.53 L674.72,393.68 L676.65,393.83 L678.57,393.97 L680.50,394.11 L682.42,394.24 L684.35,394.37 L686.27,394.49 L688.20,394.61 L690.12,394.73 L692.05,394.84 L693.97,394.95 L695.89,395.06 L697.82,395.16 L699.74,395.26 L701.67,395.36 L703.59,395.45 L705.52,395.54 L707.44,395.63 L709.37,395.71 L711.29,395.80 L713.22,395.88 L715.14,395.96 L717.07,396.03 L718.99,396.10 L720.91,396.18 L722.84,396.25 L724.76,396.31 L726.69,396.38 L728.61,396.44 L730.54,396.50 L731.50,396.54"/>
</g>
<g clip-path="url(#cp)" stroke="#0000ff">
<path d="M98.50,401.28 L102.39,401.33 L106.28,401.37 L110.17,401.42 L114.06,401.47 L117.95,401.52 L121.84,401.57 L125.74,401.62 L129.63,401.68 L133.52,401.74 L137.41,401.80 L141.30,401.86 L145.19,401.92 L149.08,401.99 L152.97,402.06 L156.86,402.14 L160.75,402.22 L164.64,402.30 L168.53,402.39 L172.42,402.48 L176.32,402.57 L180.21,402.67 L184.10,402.77 L187.99,402.88 L191.89,402.99 L195.78,403.11 L199.68,403.23 L203.57,403.36 L207.47,403.49 L211.36,403.64 L215.26,403.78 L219.16,403.94 L223.06,404.10 L226.96,404.28 L230.86,404.45 L234.76,404.64 L238.66,404.84 L242.56,405.05 L246.46,405.26 L250.36,405.48 L254.27,405.72 L258.19,405.95 L262.12,406.19 L266.06,406.44 L269.99,406.69 L273.92,406.95 L277.84,407.20 L281.75,407.45 L285.66,407.69 L289.57,407.91 L293.48,408.10 L297.39,408.27 L301.31,408.39 L305.23,408.44 L309.16,408.40 L313.09,408.22 L317.01,407.88 L320.92,407.31 L324.82,406.44 L326.77,405.86 L328.72,405.18 L330.67,404.37 L332.47,403.49 L334.23,402.50 L335.92,401.42 L337.56,400.23 L339.12,398.96 L340.61,397.58 L342.02,396.13 L343.36,394.62 L344.61,393.05 L345.82,391.42 L346.95,389.77 L348.03,388.05 L349.07,386.30 L350.09,384.55 L351.05,382.78 L351.93,380.98 L352.76,379.09 L353.53,377.21 L354.28,375.30 L355.00,373.35 L355.67,371.46 L356.30,369.56 L356.92,367.65 L357.53,365.66 L358.11,363.68 L358.67,361.71 L359.20,359.76 L359.73,357.73 L360.23,355.73 L360.70,353.78 L361.18,351.75 L361.63,349.78 L362.08,347.74 L362.50,345.77 L362.92,343.73 L363.32,341.76 L363.71,339.75 L364.11,337.67 L364.48,335.68 L364.85,333.64 L365.22,331.54 L365.56,329.55 L365.91,327.51 L366.25,325.42 L366.59,323.27 L366.91,321.25 L367.23,319.19 L367.54,317.07 L367.86,314.92 L368.15,312.90 L368.44,310.84 L368.73,308.74 L369.02,306.59 L369.28,304.61 L369.55,302.59 L369.81,300.53 L370.07,298.43 L370.33,296.30 L370.59,294.13 L370.85,291.92 L371.08,289.90 L371.32,287.85 L371.55,285.76 L371.79,283.64 L372.02,281.49 L372.25,279.30 L372.49,277.08 L372.70,275.08 L372.91,273.04 L373.12,270.98 L373.33,268.89 L373.54,266.78 L373.76,264.63 L373.97,262.46 L374.18,260.25 L374.40,258.01 L374.61,255.75 L374.80,253.74 L374.99,251.71 L375.18,249.66 L375.37,247.58 L375.56,245.48 L375.75,243.35 L375.95,241.20 L376.14,239.02 L376.33,236.82 L376.52,234.59 L376.72,232.34 L376.91,230.07 L377.10,227.76 L377.27,225.77 L377.43,223.76 L377.60,221.73 L377.77,219.68 L377.93,217.61 L378.10,215.52 L378.27,213.41 L378.43,211.29 L378.60,209.14 L378.76,206.97 L378.93,204.79 L379.10,202.58 L379.26,200.36 L379.43,198.12 L379.59,195.85 L379.76,193.57 L379.92,191.27 L380.08,188.95 L380.25,186.61 L380.41,184.24 L380.58,181.86 L380.72,179.87 L380.85,177.85 L380.99,175.83 L381.13,173.79 L381.27,171.74 L381.40,169.67 L381.54,167.59 L381.68,165.50 L381.82,163.40 L381.96,161.28 L382.10,159.15 L382.24,157.00 L382.38,154.85 L382.52,152.68 L382.66,150.50 L382.80,148.30 L382.94,146.10 L383.09,143.88 L383.23,141.65 L383.37,139.40 L383.52,137.15 L383.67,134.88 L383.81,132.61 L383.96,130.32 L384.11,128.02 L384.26,125.71 L384.41,123.39 L384.56,121.06 L384.71,118.72 L384.86,116.37 L385.01,114.02 L385.16,111.65 L385.31,109.27 L385.46,106.89 L385.61,104.50 L385.77,102.10 L385.92,99.69 L386.07,97.28 L386.22,94.86 L386.37,92.43 L386.53,90.00 L386.68,87.56 L386.83,85.12 L386.99,82.68 L387.15,80.23 L387.24,78.79 L387.33,77.35 L387.42,75.91 L387.52,74.47 L387.61,73.03 L387.71,71.59 L387.82,70.15 L387.92,68.71 L388.03,67.27 L388.13,65.83 L388.24,64.39 L388.35,62.96 L388.46,61.52 L388.57,60.08 L388.68,58.64 L388.81,57.21 L388.95,55.77 L389.13,54.33 L389.32,52.90 L389.51,51.47 L389.69,50.03 L389.86,48.60 L390.01,47.16 L390.14,45.73 L390.25,44.30 L390.35,42.86 L390.45,41.42 L390.53,39.99 L390.61,38.55 L390.69,37.11 L390.78,35.67 L390.86,34.23 L390.95,32.79 L391.05,31.34 L391.16,29.90 L391.28,28.45 L391.42,27.00 L391.58,25.55 L391.74,24.10 L391.91,22.66 L392.08,21.23 L392.24,19.80 L392.39,18.39 L392.52,16.99 L392.65,15.60 L392.85,14.18 L393.22,12.66 L393.81,11.23 L394.45,11.54 L394.89,13.11 L395.10,14.60 L395.17,16.02 L395.21,17.42 L395.28,18.83 L395.39,20.26 L395.51,21.69 L395.64,23.14 L395.78,24.59 L395.92,26.04 L396.05,27.49 L396.16,28.94 L396.25,30.38 L396.32,31.82 L396.39,33.27 L396.45,34.71 L396.51,36.14 L396.56,37.58 L396.62,39.02 L396.68,40.46 L396.74,41.90 L396.81,43.34 L396.88,44.79 L396.94,46.23 L397.01,47.67 L397.08,49.11 L397.15,50.55 L397.21,52.00 L397.28,53.44 L397.34,54.88 L397.41,56.32 L397.47,57.76 L397.53,59.21 L397.59,60.65 L397.65,62.09 L397.71,63.53 L397.77,64.98 L397.82,66.42 L397.88,67.86 L397.93,69.30 L397.99,70.75 L398.04,72.19 L398.09,73.63 L398.14,75.07 L398.19,76.52 L398.24,77.96 L398.29,79.40 L398.34,80.84 L398.38,82.29 L398.43,83.73 L398.48,85.17 L398.52,86.61 L398.56,88.06 L398.60,89.50 L398.65,90.94 L398.69,92.38 L398.73,93.83 L398.77,95.27 L398.80,96.71 L398.84,98.16 L398.88,99.60 L398.91,101.04 L398.95,102.48 L398.98,103.93 L399.02,105.37 L399.05,106.81 L399.08,108.25 L399.11,109.70 L399.14,111.14 L399.17,112.58 L399.20,114.03 L399.23,115.47 L399.26,116.91 L399.28,118.35 L399.31,119.80 L399.34,121.24 L399.36,122.68 L399.39,124.13 L399.41,125.57 L399.43,127.01 L399.45,128.46 L399.48,129.90 L399.50,131.34 L399.52,132.78 L399.54,134.23 L399.56,135.67 L399.57,137.11 L399.59,138.56 L399.61,140.00 L399.63,141.44 L399.64,142.89 L399.66,144.33 L399.67,145.77 L399.69,147.22 L399.70,148.66 L399.71,150.10 L399.72,151.55 L399.74,152.99 L399.75,154.43 L399.76,155.88 L399.77,157.32 L399.78,158.76 L399.79,160.21 L399.80,161.65 L399.81,163.09 L399.82,164.53 L399.83,165.98 L399.83,167.42 L399.84,168.86 L399.85,170.31 L399.86,171.75 L399.86,173.19 L399.87,174.64 L399.88,176.08 L399.88,177.52 L399.89,178.97 L399.90,180.41 L399.90,181.85 L399.91,183.30 L399.92,184.74 L399.92,186.18 L399.93,187.63 L399.94,189.07 L399.94,190.51 L399.95,191.96 L399.96,193.40 L399.96,194.84 L399.97,196.29 L399.98,197.73 L399.99,199.17 L399.99,200.62 L400.00,202.06 L400.01,203.50 L400.02,204.95 L400.03,206.39 L400.04,207.83 L400.05,209.28 L400.06,210.72 L400.07,212.16 L400.08,213.61 L400.09,215.05 L400.10,216.49 L400.11,217.94 L400.12,219.38 L400.13,220.82 L400.14,222.27 L400.15,223.71 L400.17,225.15 L400.18,226.60 L400.19,228.04 L400.20,229.48 L400.22,230.93 L400.23,232.37 L400.24,233.81 L400.26,235.25 L400.27,236.70 L400.28,238.14 L400.30,239.58 L400.31,241.03 L400.32,242.47 L400.34,243.91 L400.35,245.36 L400.37,246.80 L400.38,248.24 L400.40,249.69 L400.41,251.13 L400.43,252.57 L400.44,254.02 L400.46,255.46 L400.47,256.90 L400.49,258.35 L400.51,259.79 L400.52,261.23 L400.54,262.68 L400.55,264.12 L400.57,265.56 L400.59,267.00 L400.60,268.45 L400.62,269.89 L400.64,271.33 L400.65,272.78 L400.67,274.22 L400.69,275.66 L400.70,277.11 L400.72,278.55 L400.74,279.99 L400.75,281.44 L400.77,282.88 L400.79,284.32 L400.80,285.77 L400.82,287.21 L400.84,288.65 L400.86,290.09 L400.87,291.54 L400.89,292.98 L400.91,294.42 L400.93,295.87 L400.94,297.31 L400.96,298.75 L400.98,300.20 L401.00,301.64 L401.01,303.08 L401.03,304.53 L401.05,305.97 L401.07,307.41 L401.08,308.86 L401.10,310.30 L401.12,311.74 L401.13,313.19 L401.15,314.63 L401.17,316.07 L401.19,317.51 L401.20,318.96 L401.22,320.40 L401.24,321.84 L401.25,323.29 L401.27,324.73 L401.29,326.17 L401.31,327.62 L401.32,329.06 L401.34,330.50 L401.36,331.95 L401.37,333.39 L401.39,334.83 L401.41,336.28 L401.42,337.72 L401.44,339.16 L401.45,340.60 L401.47,342.05 L401.49,343.49 L401.50,344.93 L401.52,346.38 L401.54,347.82 L401.55,349.26 L401.57,350.71 L401.58,352.15 L401.60,353.59 L401.62,355.04 L401.63,356.48 L401.65,357.92 L401.66,359.37 L401.68,360.81 L401.69,362.25 L401.71,363.70 L401.73,365.14 L401.74,366.58 L401.76,368.03 L401.77,369.47 L401.79,370.91 L401.80,372.35 L401.82,373.80 L401.83,375.24 L401.85,376.68 L401.86,378.13 L401.88,379.57 L401.89,381.01 L401.91,382.46 L401.92,383.90 L401.94,385.34 L401.95,386.79 L401.97,388.23 L401.98,389.67 L401.99,391.12 L402.01,392.56 L402.02,394.00 L402.04,395.45 L402.05,396.89 L402.07,398.33 L402.08,399.78 L402.09,401.22 L402.11,402.66 L402.12,404.10 L402.14,405.55 L402.15,406.99 L402.16,408.43 L402.18,409.88 L402.19,411.32 L402.20,412.76 L402.22,414.21 L402.23,415.65 L402.25,417.09 L402.26,418.54 L402.27,419.98 L402.28,421.42 L402.30,422.87 L402.31,424.31 L402.32,425.75 L402.34,427.20 L402.35,428.64 L402.36,430.08 L402.38,431.53 L402.39,432.97 L402.40,434.41 L402.41,435.85 L402.43,437.30 L402.44,438.74 L402.45,440.18 L402.46,441.63 L402.48,443.07 L402.49,444.51 L402.50,445.96 L402.51,447.40 L402.52,448.84 L402.54,450.29 L402.55,451.73 L402.56,453.17 L402.57,454.62 L402.58,456.06 L402.59,457.50 L402.61,458.95 L402.62,460.39 L402.63,461.83 L402.64,463.28 L402.65,464.72 L402.66,466.16 L402.67,467.61 L402.69,469.05 L402.70,470.49 L402.71,471.94 L402.72,473.38 L402.73,474.82 L402.74,476.26 L402.75,477.71 L402.76,479.15 L402.77,480.59 L402.78,482.04 L402.79,483.48 L402.80,484.92 L402.81,486.37 L402.82,487.81 L402.83,489.25 L402.84,490.70 L402.85,492.14 L402.86,493.58 L402.87,495.03 L402.88,496.47 L402.89,497.91 L402.90,499.36 L402.91,500.80 L402.92,502.24 L402.93,503.69 L402.94,505.13 L402.95,506.57 L402.96,508.02 L402.97,509.46 L402.98,510.90 L402.99,512.35 L403.00,513.79 L403.00,515.23 L403.01,516.68 L403.02,518.12 L403.03,519.56 L403.04,521.00 L403.05,522.45 L403.06,523.89 L403.06,525.33 L403.07,526.78 L403.08,528.22 L403.09,529.66 L403.10,531.11 L403.11,532.55 L403.11,533.99 L403.12,535.44 L403.13,536.88 L403.14,538.32 L403.14,539.77 L403.15,541.21 L403.16,542.65 L403.17,544.10 L403.17,545.54 L403.18,546.98 L403.19,548.43 L403.20,549.87 L403.20,551.31 L403.21,552.76 L403.22,554.20 L403.22,555.64 L403.23,557.09 L403.24,558.53 L403.24,559.97 L403.25,561.42 L403.26,562.86 L403.26,564.30 L403.27,565.75 L403.27,567.19 L403.28,568.63 L403.29,570.08 L403.29,571.52 L403.30,572.96 L403.30,574.40 L403.31,575.85 L403.32,577.29 L403.32,578.73 L403.33,580.18 L403.33,581.62 L403.34,583.06 L403.34,584.51 L403.35,585.95 L403.35,587.39 L403.36,588.84 L403.36,590.28 L403.37,591.72 L403.37,593.17 L403.38,594.61 L403.38,596.05 L403.39,597.50 L403.39,598.94 L403.39,600.38 L403.40,601.83 L403.40,603.27 L403.41,604.71 L403.41,606.16 L403.41,607.60 L403.42,609.04 L403.42,610.49 L403.43,611.93 L403.43,613.37 L403.43,614.82 L403.44,616.26 L403.44,617.70 L403.44,619.15 L403.45,620.59 L403.45,622.03 L403.45,623.48 L403.45,624.92 L403.46,626.36 L403.46,627.81 L403.46,629.25 L403.47,630.69 L403.47,632.13 L403.47,633.58 L403.47,635.02 L403.47,636.46 L403.48,637.91 L403.48,639.35 L403.48,640.79 L403.48,642.24 L403.48,643.68 L403.49,645.12 L403.49,646.57 L403.49,648.01 L403.49,649.45 L403.49,650.90 L403.49,652.34 L403.49,653.78 L403.50,655.23 L403.50,656.67 L403.50,658.11 L403.50,659.56 L403.50,661.00"/>
<path d="M491.62,-10.00 L491.72,-8.63 L491.83,-6.93 L491.95,-5.24 L492.07,-3.55 L492.19,-1.87 L492.30,-0.20 L492.42,1.46 L492.54,3.11 L492.65,4.75 L492.77,6.38 L492.89,8.01 L493.00,9.63 L493.12,11.24 L493.24,12.84 L493.35,14.43 L493.47,16.02 L493.59,17.59 L493.70,19.16 L493.82,20.72 L493.94,22.28 L494.05,23.82 L494.17,25.36 L494.29,26.89 L494.40,28.41 L494.52,29.93 L494.64,31.43 L494.75,32.93 L494.87,34.43 L494.99,35.91 L495.10,37.39 L495.22,38.86 L495.34,40.32 L495.45,41.77 L495.57,43.22 L495.69,44.66 L495.80,46.09 L495.92,47.52 L496.04,48.94 L496.16,50.35 L496.27,51.76 L496.39,53.15 L496.51,54.54 L496.62,55.93 L496.74,57.31 L496.86,58.68 L496.97,60.04 L497.09,61.40 L497.21,62.75 L497.32,64.09 L497.44,65.43 L497.56,66.76 L497.67,68.08 L497.79,69.40 L497.91,70.71 L498.02,72.02 L498.14,73.31 L498.26,74.61 L498.37,75.89 L498.49,77.17 L498.61,78.44 L498.72,79.71 L498.84,80.97 L498.96,82.23 L499.07,83.47 L499.19,84.72 L499.31,85.95 L499.42,87.18 L499.54,88.41 L499.66,89.63 L499.77,90.84 L499.89,92.04 L500.01,93.25 L500.13,94.44 L500.24,95.63 L500.36,96.81 L500.48,97.99 L500.59,99.16 L500.71,100.33 L500.83,101.49 L500.94,102.65 L501.06,103.80 L501.18,104.94 L501.29,106.08 L501.41,107.22 L501.53,108.34 L501.64,109.47 L501.76,110.58 L501.88,111.70 L501.99,112.80 L502.11,113.91 L502.23,115.00 L502.34,116.09 L502.46,117.18 L502.58,118.26 L502.69,119.34 L502.81,120.41 L502.93,121.47 L503.04,122.53 L503.16,123.59 L503.28,124.64 L503.39,125.69 L503.51,126.73 L503.63,127.76 L503.74,128.80 L503.86,129.82 L503.98,130.84 L504.10,131.86 L504.21,132.87 L504.33,133.88 L504.45,134.88 L504.56,135.88 L504.68,136.87 L504.85,138.36 L505.03,139.83 L505.20,141.29 L505.38,142.74 L505.55,144.18 L505.73,145.61 L505.90,147.03 L506.08,148.44 L506.26,149.84 L506.43,151.24 L506.61,152.62 L506.78,153.99 L506.96,155.35 L507.13,156.71 L507.31,158.05 L507.48,159.39 L507.66,160.71 L507.83,162.03 L508.01,163.34 L508.18,164.64 L508.36,165.93 L508.53,167.21 L508.71,168.49 L508.88,169.75 L509.06,171.01 L509.23,172.25 L509.41,173.49 L509.58,174.72 L509.76,175.95 L509.93,177.16 L510.11,178.37 L510.28,179.57 L510.46,180.76 L510.63,181.94 L510.81,183.11 L510.98,184.28 L511.16,185.44 L511.33,186.59 L511.51,187.73 L511.68,188.87 L511.86,190.00 L512.04,191.12 L512.21,192.23 L512.39,193.34 L512.56,194.44 L512.74,195.53 L512.91,196.61 L513.09,197.69 L513.26,198.76 L513.44,199.83 L513.61,200.88 L513.79,201.93 L513.96,202.97 L514.14,204.01 L514.31,205.04 L514.49,206.06 L514.66,207.08 L514.84,208.09 L515.01,209.09 L515.19,210.09 L515.36,211.08 L515.60,212.39 L515.83,213.69 L516.06,214.97 L516.30,216.25 L516.53,217.52 L516.76,218.77 L517.00,220.02 L517.23,221.25 L517.46,222.47 L517.70,223.68 L517.93,224.89 L518.17,226.08 L518.40,227.26 L518.63,228.44 L518.87,229.60 L519.10,230.75 L519.33,231.89 L519.57,233.03 L519.80,234.15 L520.03,235.27 L520.27,236.37 L520.50,237.47 L520.73,238.56 L520.97,239.64 L521.20,240.70 L521.43,241.77 L521.67,242.82 L521.90,243.86 L522.14,244.89 L522.37,245.92 L522.60,246.94 L522.84,247.95 L523.07,248.95 L523.30,249.94 L523.54,250.93 L523.77,251.90 L524.06,253.11 L524.35,254.31 L524.65,255.50 L524.94,256.67 L525.23,257.83 L525.52,258.98 L525.81,260.12 L526.11,261.25 L526.40,262.37 L526.69,263.47 L526.98,264.57 L527.27,265.65 L527.56,266.72 L527.86,267.78 L528.15,268.84 L528.44,269.88 L528.73,270.91 L529.02,271.93 L529.32,272.94 L529.61,273.94 L529.90,274.93 L530.19,275.91 L530.48,276.88 L530.78,277.85 L531.13,278.99 L531.48,280.12 L531.83,281.24 L532.18,282.34 L532.53,283.43 L532.88,284.51 L533.23,285.57 L533.58,286.63 L533.93,287.67 L534.28,288.70 L534.63,289.72 L534.98,290.72 L535.33,291.72 L535.68,292.70 L536.03,293.68 L536.38,294.64 L536.73,295.59 L537.08,296.53 L537.49,297.61 L537.90,298.68 L538.31,299.74 L538.72,300.78 L539.12,301.81 L539.53,302.83 L539.94,303.83 L540.96,306.28 L541.92,308.52 L542.89,310.69 L543.85,312.80 L544.81,314.84 L545.77,316.83 L546.74,318.76 L547.70,320.63 L548.66,322.45 L549.62,324.22 L550.59,325.94 L551.55,327.61 L552.51,329.23 L553.47,330.81 L554.43,332.35 L555.40,333.84 L556.36,335.29 L557.32,336.70 L558.28,338.08 L559.25,339.41 L560.21,340.71 L561.17,341.98 L562.13,343.21 L563.10,344.41 L564.06,345.58 L565.02,346.72 L565.98,347.82 L566.94,348.90 L567.91,349.96 L568.87,350.98 L569.83,351.98 L570.79,352.95 L571.76,353.90 L572.72,354.82 L573.68,355.72 L574.64,356.60 L575.61,357.46 L576.57,358.29 L577.53,359.11 L578.49,359.90 L579.45,360.68 L580.42,361.44 L581.38,362.18 L582.34,362.90 L583.30,363.60 L584.27,364.29 L585.23,364.96 L586.19,365.61 L587.15,366.25 L588.12,366.87 L589.08,367.48 L590.04,368.08 L591.00,368.66 L591.96,369.23 L592.93,369.79 L593.89,370.33 L594.85,370.86 L595.81,371.38 L596.78,371.88 L597.74,372.38 L598.70,372.86 L599.66,373.34 L600.63,373.80 L601.59,374.25 L602.55,374.70 L603.51,375.13 L604.47,375.55 L605.44,375.97 L606.40,376.37 L607.36,376.77 L608.32,377.16 L609.29,377.54 L610.25,377.91 L611.21,378.27 L612.17,378.63 L613.14,378.98 L614.10,379.32 L615.06,379.66 L616.02,379.98 L616.98,380.30 L617.95,380.62 L618.91,380.93 L619.87,381.23 L620.83,381.52 L621.80,381.81 L622.76,382.10 L623.72,382.37 L624.68,382.65 L626.61,383.17 L628.53,383.68 L630.46,384.17 L632.38,384.64 L634.31,385.09 L636.23,385.52 L638.16,385.94 L640.08,386.34 L642.01,386.73 L643.93,387.10 L645.85,387.46 L647.78,387.80 L649.70,388.14 L651.63,388.46 L653.55,388.77 L655.48,389.07 L657.40,389.35 L659.33,389.63 L661.25,389.90 L663.18,390.16 L665.10,390.41 L667.03,390.65 L668.95,390.88 L670.87,391.11 L672.80,391.32 L674.72,391.54 L676.65,391.74 L678.57,391.94 L680.50,392.13 L682.42,392.31 L684.35,392.49 L686.27,392.66 L688.20,392.83 L690.12,392.99 L692.05,393.15 L693.97,393.30 L695.89,393.44 L697.82,393.59 L699.74,393.72 L701.67,393.86 L703.59,393.99 L705.52,394.11 L707.44,394.24 L709.37,394.35 L711.29,394.47 L713.22,394.58 L715.14,394.69 L717.07,394.79 L718.99,394.89 L720.91,394.99 L722.84,395.09 L724.76,395.18 L726.69,395.27 L728.61,395.36 L730.54,395.45 L731.50,395.49"/>
</g>
<g clip-path="url(#cp)" stroke="#00ff00">
<path d="M98.50,401.31 L100.45,401.33 L102.39,401.35 L104.34,401.37 L106.28,401.40 L108.23,401.42 L110.17,401.45 L112.12,401.47 L114.06,401.50 L116.01,401.52 L117.95,401.55 L119.90,401.58 L121.84,401.60 L123.79,401.63 L125.74,401.66 L127.68,401.69 L129.63,401.72 L131.57,401.75 L133.52,401.78 L135.46,401.81 L137.41,401.85 L139.35,401.88 L141.30,401.91 L143.24,401.95 L145.19,401.98 L147.13,402.02 L149.08,402.06 L151.03,402.10 L152.97,402.14 L154.92,402.18 L156.86,402.22 L158.81,402.26 L160.75,402.30 L162.70,402.34 L164.64,402.39 L166.59,402.43 L168.53,402.48 L170.48,402.53 L172.42,402.58 L174.37,402.63 L176.32,402.68 L178.26,402.73 L180.21,402.78 L182.15,402.84 L184.10,402.89 L186.04,402.95 L187.99,403.01 L189.93,403.07 L191.88,403.13 L193.82,403.19 L195.77,403.26 L197.71,403.32 L199.66,403.39 L201.61,403.46 L203.55,403.53 L205.50,403.60 L207.44,403.68 L209.39,403.75 L211.33,403.83 L213.28,403.91 L215.22,403.99 L217.17,404.07 L219.11,404.16 L221.06,404.25 L223.00,404.34 L224.95,404.43 L226.89,404.52 L228.84,404.62 L230.79,404.72 L232.73,404.82 L234.68,404.92 L236.62,405.02 L238.57,405.13 L240.51,405.24 L242.46,405.35 L244.40,405.47 L246.35,405.58 L248.29,405.70 L250.24,405.82 L252.18,405.94 L254.13,406.07 L256.08,406.20 L258.02,406.33 L259.97,406.46 L261.91,406.59 L263.86,406.72 L265.80,406.86 L267.75,407.00 L269.69,407.13 L271.64,407.27 L273.58,407.41 L275.53,407.55 L277.47,407.69 L279.42,407.82 L281.37,407.96 L283.31,408.09 L285.26,408.22 L287.20,408.35 L289.15,408.46 L291.09,408.58 L293.04,408.68 L294.98,408.78 L296.93,408.86 L298.87,408.93 L300.82,408.99 L302.76,409.03 L304.71,409.04 L306.66,409.03 L308.60,409.00 L310.55,408.93 L312.49,408.82 L314.44,408.67 L316.38,408.47 L318.33,408.21 L320.27,407.89 L322.22,407.49 L324.16,407.00 L326.11,406.42 L328.05,405.73 L330.00,404.91 L331.37,404.24 L332.69,403.52 L333.99,402.74 L335.26,401.89 L336.47,400.99 L337.66,400.03 L338.79,399.02 L339.88,397.98 L340.93,396.87 L341.94,395.74 L342.91,394.55 L343.84,393.34 L344.74,392.09 L345.58,390.83 L346.40,389.53 L347.19,388.20 L347.93,386.89 L348.65,385.55 L349.33,384.20 L349.99,382.84 L350.63,381.46 L351.23,380.09 L351.84,378.65 L352.42,377.21 L352.98,375.79 L353.51,374.37 L354.03,372.91 L354.54,371.46 L355.04,369.96 L355.51,368.49 L355.96,367.06 L356.41,365.58 L356.86,364.05 L357.28,362.56 L357.70,361.03 L358.10,359.56 L358.50,358.04 L358.87,356.58 L359.24,355.09 L359.61,353.56 L359.98,351.98 L360.32,350.48 L360.66,348.95 L361.01,347.38 L361.32,345.89 L361.64,344.37 L361.96,342.82 L362.27,341.23 L362.56,339.75 L362.85,338.23 L363.15,336.68 L363.44,335.10 L363.73,333.49 L363.99,332.00 L364.25,330.47 L364.52,328.93 L364.78,327.35 L365.05,325.74 L365.31,324.10 L365.55,322.61 L365.79,321.08 L366.02,319.53 L366.26,317.96 L366.50,316.36 L366.74,314.73 L366.97,313.08 L367.19,311.59 L367.40,310.08 L367.61,308.54 L367.82,306.99 L368.03,305.41 L368.24,303.80 L368.45,302.18 L368.67,300.53 L368.88,298.86 L369.09,297.16 L369.27,295.65 L369.46,294.13 L369.64,292.59 L369.83,291.03 L370.01,289.45 L370.20,287.85 L370.38,286.23 L370.57,284.59 L370.75,282.93 L370.94,281.25 L371.12,279.55 L371.31,277.82 L371.46,276.33 L371.62,274.82 L371.78,273.30 L371.94,271.76 L372.10,270.20 L372.26,268.63 L372.42,267.04 L372.57,265.44 L372.73,263.82 L372.89,262.18 L373.05,260.53 L373.21,258.86 L373.37,257.17 L373.52,255.46 L373.68,253.74 L373.84,252.00 L374.00,250.25 L374.16,248.47 L374.32,246.68 L374.45,245.17 L374.58,243.65 L374.71,242.12 L374.85,240.58 L374.98,239.02 L375.11,237.45 L375.24,235.87 L375.37,234.27 L375.51,232.67 L375.64,231.05 L375.77,229.41 L375.90,227.76 L376.03,226.10 L376.17,224.43 L376.30,222.75 L376.43,221.05 L376.56,219.33 L376.69,217.61 L376.83,215.87 L376.96,214.12 L377.09,212.35 L377.22,210.57 L377.35,208.78 L377.49,206.97 L377.62,205.15 L377.75,203.32 L377.88,201.47 L378.01,199.61 L378.12,198.12 L378.23,196.61 L378.33,195.09 L378.44,193.57 L378.54,192.04 L378.65,190.50 L378.75,188.95 L378.86,187.39 L378.97,185.82 L379.07,184.24 L379.18,182.66 L379.28,181.07 L379.39,179.46 L379.49,177.85 L379.60,176.23 L379.70,174.61 L379.81,172.97 L379.92,171.32 L380.02,169.67 L380.13,168.01 L380.23,166.34 L380.34,164.66 L380.44,162.97 L380.55,161.28 L380.66,159.57 L380.76,157.86 L380.87,156.14 L380.97,154.41 L381.08,152.68 L381.18,150.93 L381.29,149.18 L381.39,147.42 L381.50,145.65 L381.61,143.88 L381.71,142.09 L381.82,140.30 L381.92,138.50 L382.03,136.70 L382.13,134.88 L382.24,133.06 L382.35,131.24 L382.45,129.40 L382.56,127.56 L382.66,125.71 L382.77,123.86 L382.87,122.00 L382.98,120.13 L383.09,118.25 L383.19,116.37 L383.30,114.49 L383.40,112.60 L383.51,110.70 L383.61,108.80 L383.72,106.89 L383.82,104.98 L383.93,103.06 L384.04,101.14 L384.14,99.21 L384.25,97.28 L384.35,95.34 L384.46,93.40 L384.56,91.46 L384.67,89.51 L384.78,87.56 L384.88,85.61 L384.99,83.66 L385.09,81.70 L385.20,79.74 L385.30,77.78 L385.41,75.82 L385.52,73.86 L385.62,71.90 L385.73,69.94 L385.83,67.97 L385.94,66.01 L386.04,64.05 L386.15,62.09 L386.25,60.13 L386.36,58.18 L386.47,56.22 L386.57,54.27 L386.68,52.33 L386.78,50.39 L386.89,48.45 L386.99,46.52 L387.10,44.59 L387.21,42.67 L387.31,40.75 L387.42,38.85 L387.52,36.95 L387.63,35.06 L387.73,33.18 L387.84,31.31 L387.94,29.45 L388.05,27.61 L388.16,25.77 L388.26,23.95 L388.37,22.14 L388.47,20.35 L388.58,18.57 L388.68,16.81 L388.79,15.07 L388.90,13.34 L389.00,11.64 L389.11,9.95 L389.21,8.29 L389.32,6.65 L389.42,5.03 L389.53,3.44 L389.64,1.87 L389.74,0.33 L389.85,-1.18 L389.98,-3.03 L390.11,-4.82 L390.24,-6.57 L390.37,-8.26 L390.51,-9.89 L390.64,-11.46 L390.67,-11.77"/>
<path d="M397.34,-30.00 L397.44,-26.53 L397.53,-23.06 L397.62,-19.58 L397.71,-16.11 L397.80,-12.64 L397.89,-9.17 L397.97,-5.70 L398.06,-2.23 L398.15,1.24 L398.23,4.72 L398.32,8.19 L398.40,11.66 L398.48,15.13 L398.56,18.60 L398.64,22.07 L398.72,25.55 L398.80,29.02 L398.87,32.49 L398.95,35.96 L399.03,39.43 L399.10,42.91 L399.17,46.38 L399.24,49.85 L399.31,53.32 L399.38,56.79 L399.45,60.26 L399.52,63.74 L399.59,67.21 L399.65,70.68 L399.71,74.15 L399.78,77.62 L399.84,81.10 L399.90,84.57 L399.96,88.04 L400.02,91.51 L400.07,94.98 L400.13,98.46 L400.18,101.93 L400.24,105.40 L400.29,108.87 L400.34,112.35 L400.39,115.82 L400.43,119.29 L400.48,122.76 L400.53,126.23 L400.57,129.71 L400.62,133.18 L400.66,136.65 L400.70,140.12 L400.74,143.60 L400.78,147.07 L400.82,150.54 L400.86,154.01 L400.90,157.49 L400.94,160.96 L400.97,164.43 L401.01,167.90 L401.05,171.38 L401.08,174.85 L401.11,178.32 L401.15,181.79 L401.18,185.26 L401.21,188.74 L401.25,192.21 L401.28,195.68 L401.31,199.15 L401.34,202.63 L401.37,206.10 L401.40,209.57 L401.43,213.04 L401.46,216.52 L401.49,219.99 L401.52,223.46 L401.55,226.93 L401.58,230.41 L401.61,233.88 L401.64,237.35 L401.67,240.83 L401.70,244.30 L401.73,247.77 L401.76,251.24 L401.79,254.72 L401.82,258.19 L401.85,261.66 L401.88,265.13 L401.91,268.61 L401.95,272.08 L401.98,275.55 L402.01,279.02 L402.04,282.50 L402.07,285.97 L402.11,289.44 L402.14,292.91 L402.17,296.38 L402.20,299.86 L402.24,303.33 L402.27,306.80 L402.30,310.27 L402.34,313.75 L402.37,317.22 L402.40,320.69 L402.44,324.16 L402.47,327.64 L402.50,331.11 L402.54,334.58 L402.57,338.05 L402.61,341.53 L402.64,345.00 L402.68,348.47 L402.71,351.94 L402.74,355.42 L402.78,358.89 L402.81,362.36 L402.85,365.83 L402.88,369.31 L402.92,372.78 L402.95,376.25 L402.99,379.72 L403.02,383.20 L403.05,386.67 L403.09,390.14 L403.12,393.61 L403.16,397.09 L403.19,400.56 L403.23,404.03 L403.26,407.50 L403.29,410.98 L403.33,414.45 L403.36,417.92 L403.39,421.39 L403.43,424.87 L403.46,428.34 L403.49,431.81 L403.52,435.28 L403.55,438.75 L403.58,442.23 L403.61,445.70 L403.64,449.17 L403.67,452.64 L403.70,456.12 L403.72,459.59 L403.75,463.06 L403.77,466.53 L403.80,470.01 L403.82,473.48 L403.84,476.95 L403.87,480.42 L403.89,483.90 L403.91,487.37 L403.92,490.84 L403.94,494.31 L403.96,497.79 L403.98,501.26 L403.99,504.73 L404.00,508.21 L404.02,511.68 L404.03,515.15 L404.04,518.62 L404.06,522.10 L404.07,525.57 L404.08,529.04 L404.09,532.51 L404.10,535.99 L404.11,539.46 L404.11,542.93 L404.12,546.40 L404.13,549.88 L404.13,553.35 L404.14,556.82 L404.15,560.29 L404.15,563.77 L404.16,567.24 L404.16,570.71 L404.16,574.18 L404.17,577.66 L404.17,581.13 L404.17,584.60 L404.17,588.07 L404.18,591.55 L404.18,595.02 L404.18,598.49 L404.18,601.97 L404.18,605.44 L404.18,608.91 L404.19,612.38 L404.19,615.86 L404.19,619.33 L404.19,622.80 L404.19,626.27 L404.19,629.75 L404.19,633.22 L404.19,636.69 L404.19,640.16 L404.19,643.64 L404.19,647.11 L404.19,650.58 L404.19,654.05 L404.19,657.53 L404.19,661.00"/>
<path d="M495.47,-10.00 L495.57,-8.56 L495.69,-6.87 L495.80,-5.19 L495.92,-3.52 L496.04,-1.85 L496.16,-0.20 L496.27,1.45 L496.39,3.09 L496.51,4.72 L496.62,6.34 L496.74,7.95 L496.86,9.56 L496.97,11.16 L497.09,12.74 L497.21,14.32 L497.32,15.90 L497.44,17.46 L497.56,19.02 L497.67,20.56 L497.79,22.10 L497.91,23.64 L498.02,25.16 L498.14,26.68 L498.26,28.19 L498.37,29.69 L498.49,31.18 L498.61,32.67 L498.72,34.14 L498.84,35.61 L498.96,37.08 L499.07,38.53 L499.19,39.98 L499.31,41.42 L499.42,42.86 L499.54,44.28 L499.66,45.70 L499.77,47.11 L499.89,48.52 L500.01,49.92 L500.13,51.31 L500.24,52.69 L500.36,54.07 L500.48,55.44 L500.59,56.80 L500.71,58.16 L500.83,59.51 L500.94,60.85 L501.06,62.19 L501.18,63.52 L501.29,64.84 L501.41,66.15 L501.53,67.46 L501.64,68.77 L501.76,70.06 L501.88,71.35 L501.99,72.64 L502.11,73.92 L502.23,75.19 L502.34,76.45 L502.46,77.71 L502.58,78.96 L502.69,80.21 L502.81,81.45 L502.93,82.68 L503.04,83.91 L503.16,85.13 L503.28,86.35 L503.39,87.56 L503.51,88.77 L503.63,89.96 L503.74,91.16 L503.86,92.34 L503.98,93.52 L504.10,94.70 L504.21,95.87 L504.33,97.03 L504.45,98.19 L504.56,99.34 L504.68,100.49 L504.80,101.63 L504.91,102.77 L505.03,103.90 L505.15,105.02 L505.26,106.14 L505.38,107.26 L505.50,108.37 L505.61,109.47 L505.73,110.57 L505.85,111.66 L505.96,112.75 L506.08,113.83 L506.20,114.91 L506.31,115.98 L506.43,117.05 L506.55,118.11 L506.66,119.17 L506.78,120.22 L506.90,121.27 L507.01,122.31 L507.13,123.35 L507.25,124.38 L507.36,125.41 L507.48,126.43 L507.60,127.45 L507.71,128.46 L507.83,129.47 L507.95,130.48 L508.07,131.47 L508.18,132.47 L508.36,133.95 L508.53,135.42 L508.71,136.89 L508.88,138.34 L509.06,139.78 L509.23,141.21 L509.41,142.63 L509.58,144.04 L509.76,145.44 L509.93,146.84 L510.11,148.22 L510.28,149.59 L510.46,150.96 L510.63,152.31 L510.81,153.65 L510.98,154.99 L511.16,156.32 L511.33,157.63 L511.51,158.94 L511.68,160.24 L511.86,161.53 L512.04,162.81 L512.21,164.09 L512.39,165.35 L512.56,166.61 L512.74,167.85 L512.91,169.09 L513.09,170.32 L513.26,171.55 L513.44,172.76 L513.61,173.97 L513.79,175.16 L513.96,176.35 L514.14,177.54 L514.31,178.71 L514.49,179.87 L514.66,181.03 L514.84,182.18 L515.01,183.33 L515.19,184.46 L515.36,185.59 L515.54,186.71 L515.71,187.82 L515.89,188.93 L516.06,190.03 L516.24,191.12 L516.41,192.20 L516.59,193.28 L516.76,194.35 L516.94,195.41 L517.11,196.47 L517.29,197.51 L517.46,198.56 L517.64,199.59 L517.81,200.62 L517.99,201.64 L518.17,202.66 L518.34,203.67 L518.52,204.67 L518.69,205.66 L518.87,206.65 L519.10,207.96 L519.33,209.26 L519.57,210.55 L519.80,211.82 L520.03,213.09 L520.27,214.34 L520.50,215.58 L520.73,216.82 L520.97,218.04 L521.20,219.25 L521.43,220.45 L521.67,221.64 L521.90,222.83 L522.14,224.00 L522.37,225.16 L522.60,226.31 L522.84,227.46 L523.07,228.59 L523.30,229.71 L523.54,230.83 L523.77,231.93 L524.00,233.03 L524.24,234.11 L524.47,235.19 L524.70,236.26 L524.94,237.32 L525.17,238.37 L525.40,239.42 L525.64,240.45 L525.87,241.48 L526.11,242.50 L526.34,243.51 L526.57,244.51 L526.81,245.50 L527.04,246.49 L527.27,247.46 L527.56,248.67 L527.86,249.87 L528.15,251.06 L528.44,252.23 L528.73,253.39 L529.02,254.55 L529.32,255.69 L529.61,256.81 L529.90,257.93 L530.19,259.04 L530.48,260.13 L530.78,261.22 L531.07,262.29 L531.36,263.35 L531.65,264.41 L531.94,265.45 L532.24,266.48 L532.53,267.51 L532.82,268.52 L533.11,269.52 L533.40,270.51 L533.69,271.50 L533.99,272.47 L534.28,273.44 L534.63,274.58 L534.98,275.71 L535.33,276.83 L535.68,277.94 L536.03,279.03 L536.38,280.12 L536.73,281.18 L537.08,282.24 L537.43,283.29 L537.78,284.32 L538.13,285.34 L538.48,286.35 L538.83,287.35 L539.18,288.34 L539.53,289.32 L539.88,290.28 L540.96,293.19 L541.92,295.71 L542.89,298.15 L543.85,300.51 L544.81,302.81 L545.77,305.04 L546.74,307.21 L547.70,309.31 L548.66,311.35 L549.62,313.34 L550.59,315.27 L551.55,317.14 L552.51,318.96 L553.47,320.73 L554.43,322.46 L555.40,324.13 L556.36,325.76 L557.32,327.34 L558.28,328.89 L559.25,330.39 L560.21,331.85 L561.17,333.27 L562.13,334.65 L563.10,336.00 L564.06,337.32 L565.02,338.59 L565.98,339.84 L566.94,341.05 L567.91,342.24 L568.87,343.39 L569.83,344.51 L570.79,345.61 L571.76,346.67 L572.72,347.71 L573.68,348.73 L574.64,349.72 L575.61,350.69 L576.57,351.63 L577.53,352.55 L578.49,353.45 L579.45,354.32 L580.42,355.18 L581.38,356.01 L582.34,356.82 L583.30,357.62 L584.27,358.40 L585.23,359.16 L586.19,359.90 L587.15,360.62 L588.12,361.33 L589.08,362.02 L590.04,362.69 L591.00,363.35 L591.96,364.00 L592.93,364.63 L593.89,365.25 L594.85,365.85 L595.81,366.44 L596.78,367.02 L597.74,367.58 L598.70,368.13 L599.66,368.67 L600.63,369.20 L601.59,369.72 L602.55,370.22 L603.51,370.72 L604.47,371.20 L605.44,371.67 L606.40,372.14 L607.36,372.59 L608.32,373.04 L609.29,373.47 L610.25,373.90 L611.21,374.32 L612.17,374.73 L613.14,375.13 L614.10,375.52 L615.06,375.90 L616.02,376.28 L616.98,376.65 L617.95,377.01 L618.91,377.37 L619.87,377.72 L620.83,378.06 L621.80,378.39 L622.76,378.72 L623.72,379.04 L624.68,379.35 L625.65,379.66 L626.61,379.97 L627.57,380.26 L628.53,380.55 L629.49,380.84 L630.46,381.12 L631.42,381.40 L633.34,381.93 L635.27,382.45 L637.19,382.94 L639.12,383.42 L641.04,383.88 L642.97,384.32 L644.89,384.75 L646.82,385.17 L648.74,385.56 L650.67,385.95 L652.59,386.32 L654.52,386.68 L656.44,387.03 L658.36,387.36 L660.29,387.68 L662.21,388.00 L664.14,388.30 L666.06,388.59 L667.99,388.87 L669.91,389.15 L671.84,389.41 L673.76,389.67 L675.69,389.92 L677.61,390.16 L679.54,390.39 L681.46,390.62 L683.38,390.83 L685.31,391.05 L687.23,391.25 L689.16,391.45 L691.08,391.64 L693.01,391.83 L694.93,392.01 L696.86,392.19 L698.78,392.36 L700.71,392.53 L702.63,392.69 L704.56,392.84 L706.48,393.00 L708.40,393.14 L710.33,393.29 L712.25,393.43 L714.18,393.56 L716.10,393.69 L718.03,393.82 L719.95,393.95 L721.88,394.07 L723.80,394.18 L725.73,394.30 L727.65,394.41 L729.58,394.52 L731.50,394.62"/>
</g>
</g>
<line x1="414.9" y1="0" x2="414.9" y2="660.0" stroke="#000" stroke-width="1.3"/>
</svg>
<div id="tx" style="position:absolute;left:0;top:0;width:747px;height:724px;will-change:transform">
<div class="yt" style="top:115.2px">−1.65</div>
<div class="yt" style="top:280.1px">−1.66</div>
<div class="yt" style="top:445.0px">−1.67</div>
<div class="yt" style="top:610.0px">−1.68</div>
<div class="xt" style="left:68.5px">−10</div>
<div class="xt" style="left:226.8px">−5</div>
<div class="xt" style="left:385.0px">0</div>
<div class="xt" style="left:543.2px">5</div>
<div class="xt" style="left:701.5px">10</div>
<div class="lg" style="left:109.2px;top:58.0px"><i>τ</i><sub>0</sub>=0.02,<i>τ</i><sub>1</sub>=0.03,<i>τ</i><sub>2</sub>=0.0004</div>
<div class="lg" style="left:109.2px;top:112.0px"><i>τ</i><sub>0</sub>=0.04,<i>τ</i><sub>1</sub>=0.06,<i>τ</i><sub>2</sub>=0.0008</div>
<div class="lg" style="left:537.5px;top:486.0px"><i>τ</i><sub>0</sub>=0.08,<i>τ</i><sub>1</sub>=0.10,<i>τ</i><sub>2</sub>=0.0012</div>
<div class="lg" style="left:537.5px;top:540.0px"><i>τ</i><sub>0</sub>=0.12,<i>τ</i><sub>1</sub>=0.15,<i>τ</i><sub>2</sub>=0.0022</div>
<div class="xl">t</div>
<div class="yl">w</div>
</div>
</body></html>
